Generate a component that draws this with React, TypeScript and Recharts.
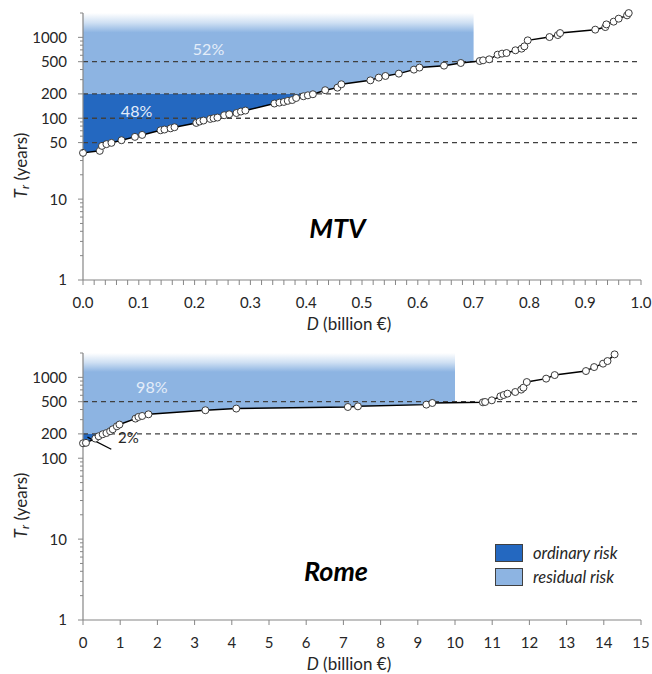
import React from 'react';
import { ComposedChart, Line, Area, XAxis, YAxis, ReferenceLine, ReferenceDot } from 'recharts';

// ---------- data ----------
const mtvD = [0, 0.030, 0.034, 0.042, 0.051, 0.069, 0.093, 0.106, 0.139, 0.146, 0.157, 0.164, 0.203, 0.209, 0.216, 0.228, 0.234, 0.241, 0.253, 0.262, 0.275, 0.283, 0.291, 0.343, 0.352, 0.360, 0.367, 0.375, 0.382, 0.395, 0.403, 0.412, 0.434, 0.456, 0.463, 0.515, 0.530, 0.542, 0.566, 0.593, 0.603, 0.647, 0.677, 0.711, 0.717, 0.728, 0.743, 0.751, 0.759, 0.775, 0.786, 0.791, 0.797, 0.836, 0.851, 0.855, 0.918, 0.936, 0.938, 0.951, 0.960, 0.975, 0.978];
const mtvT = [37.3, 39.5, 45.5, 47.8, 49.6, 53.5, 58.8, 62.2, 71, 72.5, 75, 77.4, 87.5, 91, 93.7, 98, 100, 102, 109, 112, 116, 121, 124.5, 152, 156, 159, 164, 168, 178, 187, 192, 198, 222, 239, 263, 294, 318, 333, 356, 399, 423, 447, 482, 510, 520, 535, 611, 629, 640, 692, 725, 774, 918, 1009, 1067, 1130, 1245, 1340, 1446, 1563, 1702, 1870, 1995];

const romeD = [0.00, 0.08, 0.33, 0.42, 0.53, 0.63, 0.73, 0.80, 0.91, 0.98, 1.41, 1.49, 1.59, 1.76, 3.29, 4.12, 7.12, 7.39, 9.23, 9.39, 10.75, 10.81, 10.99, 11.22, 11.31, 11.41, 11.62, 11.78, 11.84, 11.93, 12.45, 12.68, 13.52, 13.74, 13.98, 14.10, 14.29];
const romeT = [153, 155, 175, 187, 198, 205, 216, 228, 248, 261, 309, 324, 333, 349, 392, 411, 430, 438, 460, 482, 491, 496, 520, 583, 605, 629, 659, 705, 746, 875, 964, 1067, 1197, 1340, 1477, 1590, 1923];

const mtvXLabels = [0, 0.1, 0.2, 0.3, 0.4, 0.5, 0.6, 0.7, 0.8, 0.9, 1.0];
const romeXLabels = [0, 1, 2, 3, 4, 5, 6, 7, 8, 9, 10, 11, 12, 13, 14, 15];
const mtvYLabels = [1, 10, 50, 100, 200, 500, 1000];
const romeYLabels = [1, 10, 100, 200, 500, 1000];
const mtvGuides = [50, 100, 200, 500];
const romeGuides = [200, 500];
const mtvShares = ['48%', '52%'];
const romeShares = ['2%', '98%'];
const legendNames = ['ordinary risk', 'residual risk'];

const ORDINARY_T = 200;
const T_MIN = 1;
const T_MAX = 2000;
const MTV_RESID_END = 0.7;
const ROME_RESID_END = 10;

// ---------- style ----------
const FONT = 'Lato, "Open Sans", sans-serif';
const AXIS = '#868686';
const TXT = '#262626';
const DARK = '#2468C0';
const LIGHT = '#8DB4E2';
const SHARE_TXT = '#E4EDF9';

const lerpLog = (d0: number, t0: number, d1: number, t1: number, d: number) => {
  const f = (d - d0) / (d1 - d0);
  return Math.pow(10, Math.log10(t0) + f * (Math.log10(t1) - Math.log10(t0)));
};

function buildRows(Ds: number[], Ts: number[], residEnd: number) {
  const rows: any[] = Ds.map((d, i) => ({
    D: d,
    T: Ts[i],
    light: d <= residEnd ? [Ts[i], T_MAX] : undefined,
    dark: Ts[i] <= ORDINARY_T ? [Ts[i], ORDINARY_T] : undefined,
  }));
  // boundary where the curve crosses the ordinary threshold
  const k = Ts.findIndex((t) => t > ORDINARY_T);
  if (k > 0) {
    const f = (Math.log10(ORDINARY_T) - Math.log10(Ts[k - 1])) / (Math.log10(Ts[k]) - Math.log10(Ts[k - 1]));
    const dc = Ds[k - 1] + f * (Ds[k] - Ds[k - 1]);
    rows.push({ D: dc, T: undefined, light: dc <= residEnd ? [ORDINARY_T, T_MAX] : undefined, dark: [ORDINARY_T, ORDINARY_T] });
  }
  // boundary of the residual band
  const j = Ds.findIndex((d) => d > residEnd);
  if (j > 0) {
    const tb = lerpLog(Ds[j - 1], Ts[j - 1], Ds[j], Ts[j], residEnd);
    rows.push({ D: residEnd, T: undefined, light: [tb, T_MAX], dark: undefined });
  }
  rows.sort((a, b) => a.D - b.D);
  return rows;
}

const mtvRows = buildRows(mtvD, mtvT, MTV_RESID_END);
const romeRows = buildRows(romeD, romeT, ROME_RESID_END);

const logTicks: number[] = [];
for (let k = 0; k < 4; k++) {
  for (let m = 1; m <= 9; m++) {
    const v = m * Math.pow(10, k);
    if (v <= T_MAX) logTicks.push(v);
  }
}

const subdivide = (major: number[], n: number) => {
  const out: number[] = [];
  for (let i = 0; i < major.length - 1; i++) {
    for (let j = 0; j < n; j++) out.push(Math.round((major[i] + (j * (major[i + 1] - major[i])) / n) * 1e6) / 1e6);
  }
  out.push(major[major.length - 1]);
  return out;
};

const makeYTick = (labels: number[]) => (props: any) => {
  const { x, y, payload } = props;
  const v = payload.value;
  const major = labels.includes(v);
  return (
    <g>
      <line x1={x - (major ? 5 : 3)} x2={x} y1={y} y2={y} stroke={AXIS} strokeWidth={1} />
      {major && (
        <text x={x - 16} y={y} dy="0.36em" textAnchor="end" fontSize={15} fill={TXT} fontFamily={FONT}>
          {v}
        </text>
      )}
    </g>
  );
};

const makeXTick = (labels: number[], digits: number) => (props: any) => {
  const { x, y, payload } = props;
  const v = payload.value;
  const isLabel = labels.some((l) => Math.abs(l - v) < 1e-9);
  return (
    <g>
      <line x1={x} x2={x} y1={y} y2={y + 5} stroke={AXIS} strokeWidth={1} />
      {isLabel && (
        <text x={x} y={y + 23} dy="0.36em" textAnchor="middle" fontSize={15} fill={TXT} fontFamily={FONT}>
          {v.toFixed(digits)}
        </text>
      )}
    </g>
  );
};

const xTitle = (props: any) => {
  const vb = props.viewBox;
  return (
    <text x={vb.x + 266} y={vb.y + 50} textAnchor="middle" fontSize={17} fill={TXT} fontFamily={FONT}>
      <tspan fontStyle="italic">D</tspan>
      <tspan> (billion €)</tspan>
    </text>
  );
};

const yTitle = (props: any) => {
  const vb = props.viewBox;
  const cx = vb.x - 3;
  const cy = vb.y + vb.height / 2 + 19;
  return (
    <text x={cx} y={cy} transform={`rotate(-90, ${cx}, ${cy})`} textAnchor="middle" dominantBaseline="central" fontSize={17} fill={TXT} fontFamily={FONT}>
      <tspan fontStyle="italic">T</tspan>
      <tspan fontStyle="italic" fontSize={12} dy={4}>r</tspan>
      <tspan dy={-4}> (years)</tspan>
    </text>
  );
};

const textLabel = (value: string, opts: any) => (props: any) => {
  const vb = props.viewBox;
  return (
    <text x={vb.x} y={vb.y} textAnchor="middle" dominantBaseline="central" fontFamily={FONT} {...opts}>
      {value}
    </text>
  );
};

type PanelProps = {
  rows: any[];
  xDomain: [number, number];
  xTicks: number[];
  xLabels: number[];
  digits: number;
  yLabels: number[];
  guides: number[];
  gradId: string;
  fadeStop: number;
  marginTop: number;
  marginBottom: number;
  children?: React.ReactNode;
};

function Panel(p: PanelProps) {
  return (
    <ComposedChart
      width={652}
      height={337}
      data={p.rows}
      margin={{ top: p.marginTop, right: 11, bottom: p.marginBottom, left: 23 }}
    >
      <defs>
        <linearGradient id={p.gradId} x1="0" y1="0" x2="0" y2="1">
          <stop offset="0" stopColor="#FFFFFF" />
          <stop offset={p.fadeStop * 0.5} stopColor="#CFE0F3" />
          <stop offset={p.fadeStop} stopColor={LIGHT} />
          <stop offset="1" stopColor={LIGHT} />
        </linearGradient>
      </defs>
      <XAxis
        dataKey="D"
        type="number"
        domain={p.xDomain}
        ticks={p.xTicks}
        interval={0}
        height={40}
        tickSize={0}
        tickMargin={0}
        tickLine={false}
        axisLine={{ stroke: AXIS, strokeWidth: 1.2 }}
        tick={makeXTick(p.xLabels, p.digits)}
        label={{ content: xTitle }}
      />
      <YAxis
        type="number"
        scale="log"
        domain={[T_MIN, T_MAX]}
        ticks={logTicks}
        interval={0}
        width={60}
        tickSize={0}
        tickMargin={0}
        tickLine={false}
        axisLine={{ stroke: AXIS, strokeWidth: 1.2 }}
        tick={makeYTick(p.yLabels)}
        label={{ content: yTitle }}
      />
      <Area dataKey="light" type="linear" stroke="none" fill={`url(#${p.gradId})`} fillOpacity={1} isAnimationActive={false} dot={false} activeDot={false} />
      <Area dataKey="dark" type="linear" stroke="none" fill={DARK} fillOpacity={1} isAnimationActive={false} dot={false} activeDot={false} />
      {p.guides.map((g) => (
        <ReferenceLine key={g} y={g} stroke="#404040" strokeWidth={1.3} strokeDasharray="5 4" />
      ))}
      <Line
        dataKey="T"
        type="linear"
        stroke="#000000"
        strokeWidth={1.5}
        connectNulls
        isAnimationActive={false}
        dot={{ r: 3.5, fill: '#FFFFFF', stroke: '#3A3A3A', strokeWidth: 1 }}
        activeDot={false}
      />
      {p.children}
    </ComposedChart>
  );
}

export default function App() {
  return (
    <div style={{ position: 'absolute', left: 0, top: 0, width: 652, height: 674, background: '#FFFFFF' }}>
      <div style={{ position: 'absolute', left: 0, top: 0 }}>
        {Panel({
          rows: mtvRows,
          xDomain: [0, 1],
          xTicks: subdivide(mtvXLabels, 5),
          xLabels: mtvXLabels,
          digits: 1,
          yLabels: mtvYLabels,
          guides: mtvGuides,
          gradId: 'gradMtv',
          fadeStop: 0.14,
          marginTop: 13,
          marginBottom: 17,
          children: [
            <ReferenceDot key="s1" x={0.096} y={125} r={0} fill="none" stroke="none" label={{ content: textLabel(mtvShares[0], { fontSize: 16, fill: SHARE_TXT }) }} />,
            <ReferenceDot key="s2" x={0.225} y={730} r={0} fill="none" stroke="none" label={{ content: textLabel(mtvShares[1], { fontSize: 16, fill: SHARE_TXT }) }} />,
            <ReferenceDot key="nm" x={0.456} y={4.4} r={0} fill="none" stroke="none" label={{ content: textLabel('MTV', { fontSize: 27, fontWeight: 700, fontStyle: 'italic', fill: '#000' }) }} />,
          ],
        })}
      </div>
      <div style={{ position: 'absolute', left: 0, top: 337 }}>
        {Panel({
          rows: romeRows,
          xDomain: [0, 15],
          xTicks: romeXLabels,
          xLabels: romeXLabels,
          digits: 0,
          yLabels: romeYLabels,
          guides: romeGuides,
          gradId: 'gradRome',
          fadeStop: 0.21,
          marginTop: 16,
          marginBottom: 14,
          children: [
            <ReferenceLine key="lead" segment={[{ x: 0.12, y: 182 }, { x: 0.76, y: 129 }]} stroke="#000" strokeWidth={1.3} />,
            <ReferenceDot key="s1" x={1.22} y={182} r={0} fill="none" stroke="none" label={{ content: textLabel(romeShares[0], { fontSize: 15, fill: TXT }) }} />,
            <ReferenceDot key="s2" x={1.85} y={760} r={0} fill="none" stroke="none" label={{ content: textLabel(romeShares[1], { fontSize: 16, fill: SHARE_TXT }) }} />,
            <ReferenceDot key="nm" x={6.8} y={4.1} r={0} fill="none" stroke="none" label={{ content: textLabel('Rome', { fontSize: 27, fontWeight: 700, fontStyle: 'italic', fill: '#000' }) }} />,
          ],
        })}
      </div>
      {/* legend */}
      <div style={{ position: 'absolute', left: 495, top: 544, fontFamily: FONT, fontSize: 16.5, fontStyle: 'italic', color: TXT }}>
        {[DARK, LIGHT].map((c, i) => (
          <div key={i} style={{ display: 'flex', alignItems: 'center', height: 18, marginBottom: 6 }}>
            <div style={{ width: 26, height: 16, background: c, border: '1px solid #404040', marginRight: 10 }} />
            <span style={{ lineHeight: '18px' }}>{legendNames[i]}</span>
          </div>
        ))}
      </div>
    </div>
  );
}
